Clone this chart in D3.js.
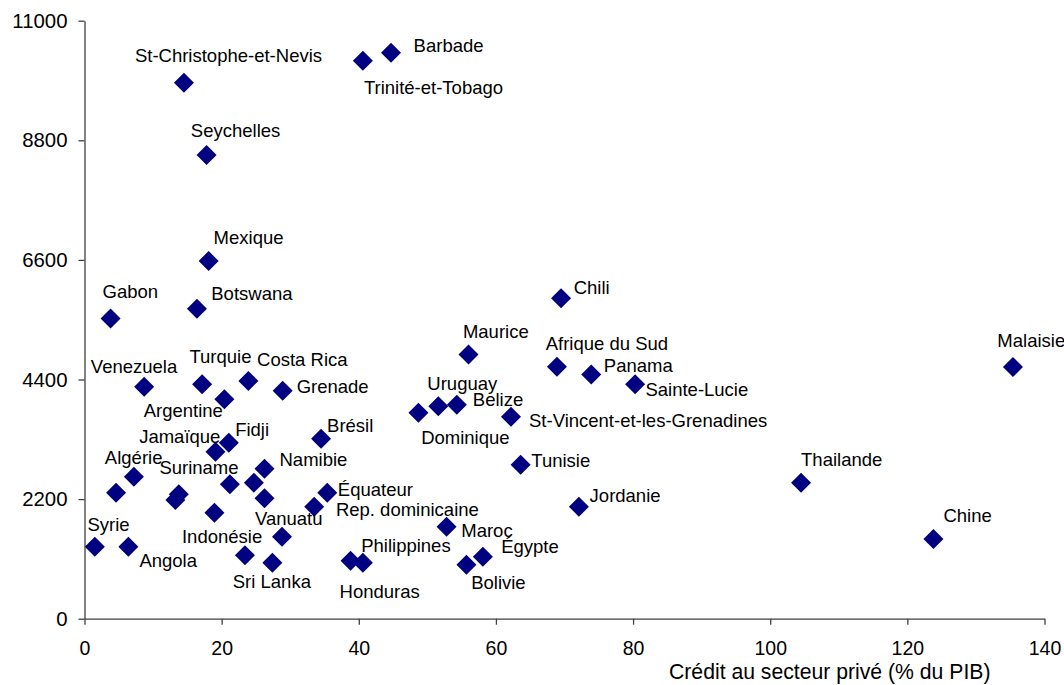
<!DOCTYPE html>
<html>
<head>
<meta charset="utf-8">
<script src="https://cdn.jsdelivr.net/npm/d3@7"></script>
<style>
  html, body { margin: 0; padding: 0; background: #fff; }
  svg { display: block; font-family: "Liberation Sans", Arial, sans-serif; }
</style>
</head>
<body>
<svg id="chart" width="1064" height="685"></svg>
<script>
// ---- data ----
const countries = [
  "St-Christophe-et-Nevis","Seychelles","Barbade","Trinité-et-Tobago","Mexique","Gabon","Botswana",
  "Chili","Maurice","Afrique du Sud","Panama","Sainte-Lucie","Uruguay","Belize","Dominique",
  "St-Vincent-et-les-Grenadines","Brésil","Tunisie","Équateur","Rep. dominicaine","Jordanie","Maroc",
  "Égypte","Bolivie","Philippines","Honduras","Thailande","Chine","Malaisie",
  "Venezuela","Turquie","Argentine","Costa Rica","Grenade","Fidji","Jamaïque","Namibie","Algérie",
  "Suriname","Vanuatu","Indonésie","Sri Lanka","Syrie","Angola",
  "","","","","",""
];
const creditPrive = [
  14.5, 17.8, 44.7, 40.6, 18.1, 3.8, 16.4,
  69.5, 56.0, 68.9, 73.9, 80.3, 51.6, 54.3, 48.7,
  62.2, 34.5, 63.6, 35.4, 33.5, 72.1, 52.8,
  58.1, 55.7, 40.6, 38.8, 104.5, 123.8, 135.4,
  8.7, 17.15, 20.4, 23.9, 28.9, 21.05, 19.1, 26.25, 7.2,
  13.75, 28.8, 23.4, 27.4, 1.5, 6.4,
  4.6, 13.25, 21.2, 24.7, 26.25, 18.95
];
const pibParHabitant = [
  9860, 8530, 10410, 10265, 6580, 5520, 5700,
  5895, 4860, 4636, 4490, 4312, 3907, 3937, 3790,
  3716, 3311, 2833, 2318, 2060, 2060, 1692,
  1141, 993, 1030, 1067, 2502, 1466, 4630,
  4268, 4312, 4036, 4373, 4194, 3238, 3072, 2760, 2612,
  2289, 1508, 1166, 1030, 1325, 1325,
  2318, 2184, 2472, 2502, 2215, 1950
];
const xTicks = [0, 20, 40, 60, 80, 100, 120, 140];
const yTicks = [0, 2200, 4400, 6600, 8800, 11000];
const xTitle = "Crédit au secteur privé (% du PIB)";

// label placement (offset of text start / baseline from marker centre)
const labelOffsets = [
  [-49,-21], [-15.7,-17.7], [22.6,-1], [1,33.6], [5,-17], [-8,-20.4], [14.3,-8.7],
  [12.6,-4.3], [-5.6,-16.6], [-11.3,-16.7], [12.6,-3], [10.3,11.4], [-11,-16.3], [16,1], [2.7,31.3],
  [18,10.6], [6,-7], [10.7,2.6], [10.6,3], [21.7,9], [10.7,-5], [14.7,10.6],
  [18.3,-3.4], [4.7,24.6], [-1.7,-11], [-11,37], [0,-16.7], [10,-16.7], [-15.6,-20.3],
  [-53.3,-13.4], [-12.7,-21], [-80.7,18], [8.7,-15.3], [14,2.6], [6.3,-6.7], [-76.3,-8.4], [15,-2.7], [-29,-12.7],
  [-19.4,-20.3], [-27,-11.7], [-63,-12], [-39.6,25.6], [-7.4,-15.7], [11,20.6],
  [0,0],[0,0],[0,0],[0,0],[0,0],[0,0]
];

const points = countries.map((c, i) => ({
  name: c, x: creditPrive[i], y: pibParHabitant[i], off: labelOffsets[i]
}));

// ---- layout ----
const svg = d3.select("#chart");
const x = d3.scaleLinear().domain([0, 140]).range([84.5, 1044.5]);
const y = d3.scaleLinear().domain([0, 11000]).range([618.7, 20.7]);

const axisColor = "#404040";

// x axis
const gx = svg.append("g").attr("transform", `translate(0,${y(0)})`)
  .call(d3.axisBottom(x).tickValues(xTicks).tickFormat(d3.format("d"))
    .tickSize(6).tickPadding(16).tickSizeOuter(0));
// y axis
const gy = svg.append("g").attr("transform", `translate(${x(0)},0)`)
  .call(d3.axisLeft(y).tickValues(yTicks).tickFormat(d3.format("d"))
    .tickSize(6).tickPadding(11).tickSizeOuter(0));

[gx, gy].forEach(g => {
  g.select(".domain").attr("stroke", axisColor).attr("stroke-width", 1.3);
  g.selectAll(".tick line").attr("stroke", axisColor).attr("stroke-width", 1.3);
  g.selectAll(".tick text").attr("fill", "#000")
    .style("font-family", '"Liberation Sans", Arial, sans-serif');
});
gy.selectAll(".tick text").style("font-size", "20.4px");
gx.selectAll(".tick text").style("font-size", "19.5px");

// axis title
svg.append("text")
  .attr("x", 669).attr("y", 679)
  .attr("text-anchor", "start")
  .style("font-size", "21.2px")
  .attr("fill", "#000")
  .text(xTitle);

// markers
const sym = d3.symbol().type(d3.symbolSquare).size(200);
svg.append("g").selectAll("path").data(points).join("path")
  .attr("d", sym)
  .attr("transform", d => `translate(${x(d.x)},${y(d.y)}) rotate(45)`)
  .attr("fill", "#000080");

// labels
svg.append("g").selectAll("text").data(points.filter(d => d.name)).join("text")
  .attr("x", d => x(d.x) + d.off[0])
  .attr("y", d => y(d.y) + d.off[1])
  .style("font-size", "18.5px")
  .attr("fill", "#000")
  .text(d => d.name);
</script>
</body>
</html>
